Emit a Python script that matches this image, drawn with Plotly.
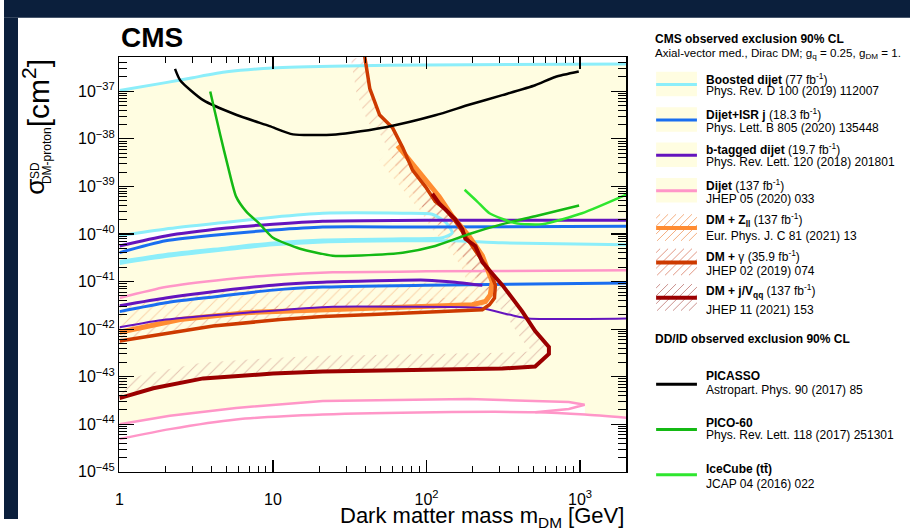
import numpy as np
import plotly.graph_objects as go

# ---------------- data: DM mass [GeV] and SD DM-proton cross section [cm^2] ----------------
BOOSTED_TOP_M = [1, 2, 3, 5, 10, 30, 100, 2000]
BOOSTED_TOP_S = [1.04e-37, 1.52e-37, 1.93e-37, 2.56e-37, 3.1e-37, 3.41e-37, 3.58e-37, 3.75e-37]
BOOSTED_LOOP_M = [1, 2, 5, 10, 21.1, 69.9, 109, 133, 147, 127, 69.9, 21.1, 10, 5, 2, 1]
BOOSTED_LOOP_S = [9.1e-41, 1.27e-40, 1.77e-40, 2.25e-40, 2.72e-40, 2.72e-40, 2.59e-40, 1.77e-40,
                  1.05e-40, 8.3e-41, 7.9e-41, 7.5e-41, 6.5e-41, 5.1e-41, 3.7e-41, 2.64e-41]
BOOSTED_LOW_M = [1, 2, 5, 10, 21.1, 69.9, 147, 312, 2000]
BOOSTED_LOW_S = [2.4e-41, 3.35e-41, 4.7e-41, 5.9e-41, 6.8e-41, 7.2e-41, 7.2e-41, 6.5e-41, 5.9e-41]

ISR_TOP_M = [1, 2, 5, 10, 21.1, 100, 2000]
ISR_TOP_S = [4.05e-41, 7.2e-41, 1.0e-40, 1.21e-40, 1.40e-40, 1.40e-40, 1.46e-40]
ISR_LOW_M = [1, 2, 3.51, 10, 21.1, 100, 2000]
ISR_LOW_S = [2.33e-42, 3.58e-42, 4.5e-42, 6.6e-42, 7.65e-42, 8.4e-42, 9.3e-42]

BTAG_TOP_M = [1, 2, 5, 10, 21.1, 100, 2000]
BTAG_TOP_S = [5.6e-41, 9.1e-41, 1.33e-40, 1.61e-40, 1.86e-40, 1.95e-40, 1.95e-40]
BTAG_MID_M = [1, 2, 3.51, 10, 21.1, 100, 154, 199, 231]
BTAG_MID_S = [3.1e-42, 4.5e-42, 5.75e-42, 8.4e-42, 9.7e-42, 1.07e-41, 9.7e-42, 8.8e-42, 8.4e-42]
BTAG_LOW_M = [1, 2, 6.68, 24.5, 69.9, 220, 345, 464, 2000]
BTAG_LOW_S = [1.09e-42, 1.59e-42, 2.22e-42, 2.96e-42, 2.96e-42, 2.8e-42, 2.02e-42, 1.67e-42, 1.67e-42]

DIJET_UP_M = [1, 2, 5, 10, 24.5, 100, 2000]
DIJET_UP_S = [4.5e-42, 7.65e-42, 1.12e-41, 1.36e-41, 1.56e-41, 1.64e-41, 1.72e-41]
DIJET_LOWA_M = [1, 2.13, 5.75, 21.1, 189, 845, 1072, 845, 510]
DIJET_LOWA_S = [1.0e-44, 1.51e-44, 2.2e-44, 3.08e-44, 3.4e-44, 2.93e-44, 2.58e-44, 2.1e-44, 1.79e-44]
DIJET_LOWB_M = [1, 2.13, 5.75, 21.1, 114, 510, 1077, 2000]
DIJET_LOWB_S = [4.9e-45, 7.9e-45, 1.26e-44, 1.6e-44, 1.79e-44, 1.79e-44, 1.6e-44, 1.37e-44]

ZLL_M = [1, 2.48, 6.68, 24.5, 94.2, 199, 242, 260, 268, 231, 189, 147, 121, 98.6, 81.1, 64.8]
ZLL_S = [8.6e-43, 1.59e-42, 2.22e-42, 2.56e-42, 3.0e-42, 3.25e-42, 3.8e-42, 5.2e-42, 9.9e-42,
         3.5e-41, 9.1e-41, 2.36e-40, 6.1e-40, 1.37e-39, 2.97e-39, 7.2e-39]

GAMMA_M = [1, 1.93, 4.08, 11.1, 21.1, 44.6, 94.2, 154, 231, 257, 277, 281, 257, 214, 179, 154,
           133, 114, 98.6, 81.1, 69.9, 60.1, 49.5, 42.7, 39.6]
GAMMA_S = [5.6e-43, 7.8e-43, 1.16e-42, 1.59e-42, 1.84e-42, 2.02e-42, 2.22e-42, 2.37e-42, 2.56e-42,
           3.25e-42, 4.5e-42, 8.4e-42, 1.72e-41, 3.9e-41, 9.1e-41, 1.86e-40, 3.29e-40, 4.8e-40,
           9.8e-40, 2.2e-39, 6.6e-39, 1.7e-38, 3.16e-38, 1.14e-37, 5.3e-37]

DMJ_M = [1, 1.66, 3.51, 10, 21.1, 69.9, 312, 510, 627, 627, 510, 420, 312, 231, 208, 179, 171,
         154, 140, 121, 109]
DMJ_S = [3.55e-44, 5.7e-44, 9.2e-44, 1.16e-43, 1.28e-43, 1.36e-43, 1.48e-43, 1.63e-43, 3.0e-43,
         4.2e-43, 9.1e-43, 2.37e-42, 8.4e-42, 2.55e-41, 5.6e-41, 7.9e-41, 1.27e-40, 2.04e-40,
         2.75e-40, 4.4e-40, 7.0e-40]

PICASSO_M = [2.3, 2.49, 3.51, 5.75, 9.5, 13.5, 25.7, 54.2, 114, 189, 312, 510, 689, 981]
PICASSO_S = [2.96e-37, 1.69e-37, 6.5e-38, 3.21e-38, 1.85e-38, 1.24e-38, 1.24e-38, 1.76e-38,
             3.12e-38, 5.2e-38, 8.3e-38, 1.34e-37, 2.0e-37, 2.6e-37]

PICO60_M = [3.9, 4.2, 4.53, 5.1, 5.75, 6.68, 8.2, 10, 15, 24.5, 33, 69.9, 114, 190, 312, 510, 986]
PICO60_S = [9.9e-38, 3.5e-38, 1.22e-38, 2.54e-39, 6.1e-40, 2.99e-40, 1.61e-40, 8.3e-41, 4.9e-41,
            3.5e-41, 3.5e-41, 4.05e-41, 5.6e-41, 1.0e-40, 1.61e-40, 2.36e-40, 3.97e-40]

ICECUBE_M = [177, 214, 257, 378, 567, 1030, 2000]
ICECUBE_S = [8.5e-40, 4.8e-40, 2.72e-40, 1.69e-40, 1.61e-40, 2.72e-40, 6.7e-40]

X_TICKS = [1, 10, 100, 1000]
X_TICKTEXT = ["1", "10", "10<sup>2</sup>", "10<sup>3</sup>"]
Y_EXPONENTS = list(range(-45, -36))

LEGEND_CMS = [
    ("<b>Boosted dijet</b> (77 fb<sup>-1</sup>)", "Phys. Rev. D 100 (2019) 112007"),
    ("<b>Dijet+ISR j</b> (18.3 fb<sup>-1</sup>)", "Phys. Lett. B 805 (2020) 135448"),
    ("<b>b-tagged dijet</b> (19.7 fb<sup>-1</sup>)", "Phys. Rev. Lett. 120 (2018) 201801"),
    ("<b>Dijet</b> (137 fb<sup>-1</sup>)", "JHEP 05 (2020) 033"),
    ("<b>DM + Z<sub>ll</sub></b> (137 fb<sup>-1</sup>)", "Eur. Phys. J. C 81 (2021) 13"),
    ("<b>DM + </b>γ (35.9 fb<sup>-1</sup>)", "JHEP 02 (2019) 074"),
    ("<b>DM + j/V<sub>qq</sub></b> (137 fb<sup>-1</sup>)", "JHEP 11 (2021) 153"),
]
LEGEND_DD = [
    ("<b>PICASSO</b>", "Astropart. Phys. 90 (2017) 85"),
    ("<b>PICO-60</b>", "Phys. Rev. Lett. 118 (2017) 251301"),
    ("<b>IceCube (tt\u0304)</b>", "JCAP 04 (2016) 022"),
]

# ---------------- style ----------------
W, H = 910, 528
FONT = "Liberation Sans, Arial, Helvetica, sans-serif"
NAVY = "#0b1f3c"
CREAM = "#fffde1"
C_CYAN = "#8ceefa"
C_BLUE = "#1a6ef0"
C_PURPLE = "#6414be"
C_PINK = "#ff96c8"
C_ORANGE = "#ff8c32"
C_RED = "#cd3a00"
C_DRED = "#9b0000"
C_BLACK = "#000000"
C_PICO = "#14b914"
C_ICE = "#2ee62e"
H_ZLL = "rgba(240,150,90,0.85)"
H_GAM = "rgba(215,120,95,0.85)"
H_DMJ = "rgba(185,110,105,0.85)"

PX0, PX1, PY0, PY1 = 116, 625, 58, 480
X_RANGE = [0.0, float(np.log10(2000.0))]
Y_RANGE = [-45.0, -36.28]
KX = (PX1 - PX0) / (X_RANGE[1] - X_RANGE[0])
KY = (PY1 - PY0) / (Y_RANGE[1] - Y_RANGE[0])


def band(m, s, width):
    """Hatched band on the left side of a contour, width in pixels."""
    U = np.log10(np.asarray(m, float)) * KX
    V = np.log10(np.asarray(s, float)) * KY
    dU = np.gradient(U)
    dV = np.gradient(V)
    L = np.hypot(dU, dV)
    L[L == 0] = 1.0
    nU, nV = -dV / L, dU / L
    U2 = U + width * nU
    V2 = V + width * nV
    bm = np.concatenate([10 ** (U / KX), 10 ** (U2[::-1] / KX)])
    bs = np.concatenate([10 ** (V / KY), 10 ** (V2[::-1] / KY)])
    return bm, bs


fig = go.Figure()

# cream exclusion fill
tip = int(np.argmax(DIJET_LOWA_M))
low_m = list(DIJET_LOWA_M[:tip + 1]) + [m for m in DIJET_LOWB_M if m > DIJET_LOWA_M[tip]]
low_s = list(DIJET_LOWA_S[:tip + 1]) + [s for m, s in zip(DIJET_LOWB_M, DIJET_LOWB_S) if m > DIJET_LOWA_M[tip]]
cream_m = list(BOOSTED_TOP_M) + low_m[::-1]
cream_s = list(BOOSTED_TOP_S) + low_s[::-1]
fig.add_trace(go.Scatter(x=cream_m, y=cream_s, mode="none", fill="toself", fillcolor=CREAM,
                         hoverinfo="skip", showlegend=False))

# white gap between boosted contour and b-tagged contour
n_up = 7
wm = list(BOOSTED_LOOP_M[:n_up]) + [m for m in BTAG_TOP_M if m <= 100][::-1]
ws = list(BOOSTED_LOOP_S[:n_up]) + [s for m, s in zip(BTAG_TOP_M, BTAG_TOP_S) if m <= 100][::-1]
fig.add_trace(go.Scatter(x=wm, y=ws, mode="none", fill="toself", fillcolor="white",
                         line_shape="spline", hoverinfo="skip", showlegend=False))

# hatched bands
for m, s, w, c in [(ZLL_M, ZLL_S, 24, H_ZLL), (GAMMA_M, GAMMA_S, 14, H_GAM), (DMJ_M, DMJ_S, 16, H_DMJ)]:
    bm, bs = band(m, s, w)
    fig.add_trace(go.Scatter(x=bm, y=bs, mode="none", fill="toself", fillcolor="rgba(0,0,0,0)",
                             fillpattern=dict(shape="/", fgcolor=c, bgcolor="rgba(0,0,0,0)",
                                              size=8, solidity=0.12),
                             hoverinfo="skip", showlegend=False))


def line(m, s, color, width, shape="spline"):
    fig.add_trace(go.Scatter(x=m, y=s, mode="lines", line=dict(color=color, width=width, shape=shape,
                                                               smoothing=0.6),
                             hoverinfo="skip", showlegend=False))


line(BOOSTED_TOP_M, BOOSTED_TOP_S, C_CYAN, 3)
line(BOOSTED_LOOP_M, BOOSTED_LOOP_S, C_CYAN, 3)
line(BOOSTED_LOW_M, BOOSTED_LOW_S, C_CYAN, 3)
line(DIJET_UP_M, DIJET_UP_S, C_PINK, 2.5)
line(DIJET_LOWA_M, DIJET_LOWA_S, C_PINK, 2.5, "linear")
line(DIJET_LOWB_M, DIJET_LOWB_S, C_PINK, 2.5)
line(ISR_TOP_M, ISR_TOP_S, C_BLUE, 3)
line(ISR_LOW_M, ISR_LOW_S, C_BLUE, 3)
line(BTAG_TOP_M, BTAG_TOP_S, C_PURPLE, 3)
line(BTAG_MID_M, BTAG_MID_S, C_PURPLE, 3)
line(ZLL_M, ZLL_S, C_ORANGE, 5, "linear")
line(BTAG_LOW_M, BTAG_LOW_S, C_PURPLE, 2)
line(GAMMA_M, GAMMA_S, C_RED, 3.5, "linear")
line(DMJ_M, DMJ_S, C_DRED, 4, "linear")
line(PICASSO_M, PICASSO_S, C_BLACK, 2.5)
line(PICO60_M, PICO60_S, C_PICO, 2.5)
line(ICECUBE_M, ICECUBE_S, C_ICE, 2.5)

# navy page frame drawn as filled traces in two thin helper subplots (left and top strips)
for ax in ("3", "4"):
    fig.add_trace(go.Scatter(x=[-1, 2, 2, -1, -1], y=[-1, -1, 2, 2, -1], mode="none", fill="toself",
                             fillcolor=NAVY, xaxis="x" + ax, yaxis="y" + ax,
                             hoverinfo="skip", showlegend=False))

# ---------------- helpers for paper-pixel placement ----------------
ann = []
shapes = []


def px_ann(text, x, y, size, xanchor="left", yanchor="middle", angle=0, color="black"):
    ann.append(dict(text=text, x=x / W, y=1 - y / H, xref="paper", yref="paper", showarrow=False,
                    xanchor=xanchor, yanchor=yanchor, textangle=angle,
                    font=dict(family=FONT, size=size, color=color)))


def px_rect(x0, y0, x1, y1, color, layer="below"):
    shapes.append(dict(type="rect", xref="paper", yref="paper", x0=x0 / W, x1=x1 / W,
                       y0=1 - y1 / H, y1=1 - y0 / H, fillcolor=color, line=dict(width=0), layer=layer))


def px_line(x0, y0, x1, y1, color, width):
    shapes.append(dict(type="line", xref="paper", yref="paper", x0=x0 / W, x1=x1 / W,
                       y0=1 - y0 / H, y1=1 - y1 / H, line=dict(color=color, width=width),
                       layer="below"))


def px_hatch(x0, y0, x1, y1, color, step=8):
    c = x0 + y0 + step / 2
    while c < x1 + y1:
        xa = max(x0, c - y1)
        xb = min(x1, c - y0)
        if xb > xa:
            px_line(xa, c - xa, xb, c - xb, color, 0.9)
        c += step


# legend samples
LX0, LX1 = 655, 696
LEG_Y = [86, 122, 158, 194, 232, 267, 303, 391, 437, 483]
LEG_COL = [C_CYAN, C_BLUE, C_PURPLE, C_PINK, C_ORANGE, C_RED, C_DRED, C_BLACK, C_PICO, C_ICE]
LEG_HATCH = [None, None, None, None, H_ZLL, H_GAM, H_DMJ]
for i, y in enumerate(LEG_Y):
    if i < 4:
        px_rect(LX0, y - 13, LX1, y + 12, CREAM)
    elif i < 7:
        px_hatch(LX0, y - 14, LX1, y + 13, LEG_HATCH[i])
    px_line(LX0, y, LX1, y, LEG_COL[i], 4 if 4 <= i <= 6 else 3)

# texts
px_ann("<b>CMS</b>", 116, 38, 28)
px_ann("Dark matter mass m<sub>DM</sub> [GeV]", 625, 526, 22, xanchor="right")
px_ann("σ", 31, 190, 26, xanchor="center", angle=-90)
px_ann("SD", 31, 173, 12, xanchor="center", angle=-90)
px_ann("DM-proton", 43, 158, 12, xanchor="center", angle=-90)
px_ann("[cm<sup>2</sup>]", 33, 95, 30, xanchor="center", angle=-90)

px_ann("<b>CMS observed exclusion 90% CL</b>", 652, 40, 12)
px_ann("Axial-vector med., Dirac DM; g<sub>q</sub> = 0.25, g<sub>DM</sub> = 1.", 652, 54, 11.6)
NAME_Y = [80, 116, 152, 188, 224, 260, 296]
REF_Y = [93, 130, 165, 202, 240, 276, 315]
for (nm, ref), ny, ry in zip(LEGEND_CMS, NAME_Y, REF_Y):
    px_ann(nm, 703, ny, 12)
    px_ann(ref, 703, ry, 12)
px_ann("<b>DD/ID observed exclusion 90% CL</b>", 652, 345, 12)
for (nm, ref), ny, ry in zip(LEGEND_DD, [383, 430, 477], [397, 443, 492]):
    px_ann(nm, 703, ny, 12)
    px_ann(ref, 703, ry, 12)

axis_common = dict(showline=True, linecolor="black", linewidth=1.5, mirror="ticks", ticks="inside",
                   tickcolor="black", showgrid=False, zeroline=False,
                   tickfont=dict(family=FONT, size=16, color="black"))
hidden = dict(visible=False, range=[0, 1], fixedrange=True)

fig.update_layout(
    width=W, height=H, margin=dict(l=0, r=0, t=0, b=0),
    paper_bgcolor="white", plot_bgcolor="white",
    font=dict(family=FONT, color="black"),
    showlegend=False,
    xaxis=dict(type="log", range=X_RANGE, domain=[PX0 / W, PX1 / W], anchor="y",
               tickmode="array", tickvals=X_TICKS, ticktext=X_TICKTEXT, ticklen=12, tickwidth=1.2,
               ticklabelstandoff=12,
               minor=dict(ticks="inside", ticklen=6, tickwidth=1, tickcolor="black", dtick="D1",
                          showgrid=False),
               **axis_common),
    yaxis=dict(type="log", range=Y_RANGE, domain=[1 - PY1 / H, 1 - PY0 / H], anchor="x",
               tickmode="array", tickvals=[10.0 ** e for e in Y_EXPONENTS],
               ticktext=["10<sup>\u2212%d</sup>" % (-e) for e in Y_EXPONENTS],
               ticklen=15, tickwidth=1.2,
               minor=dict(ticks="inside", ticklen=8, tickwidth=1, tickcolor="black", dtick="D1",
                          showgrid=False),
               **axis_common),
    xaxis3=dict(domain=[0, 14 / W], anchor="y3", **hidden),
    yaxis3=dict(domain=[0, 1], anchor="x3", **hidden),
    xaxis4=dict(domain=[0, 1], anchor="y4", **hidden),
    yaxis4=dict(domain=[1 - 18 / H, 1], anchor="x4", **hidden),
    annotations=ann,
    shapes=shapes,
)

fig.write_html("out.html", config={"staticPlot": True})
